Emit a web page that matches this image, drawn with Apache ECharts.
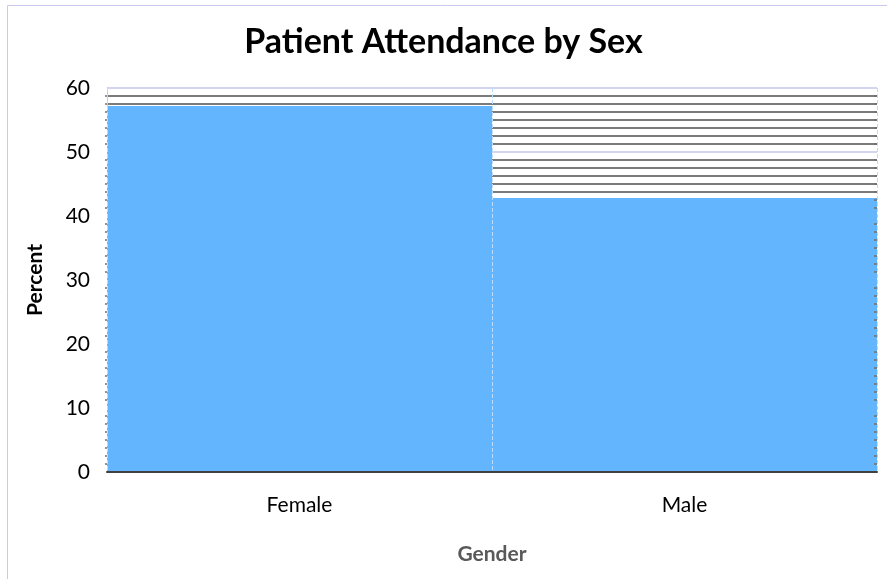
<!DOCTYPE html>
<html>
<head>
<meta charset="utf-8">
<script src="https://cdn.jsdelivr.net/npm/echarts@6/dist/echarts.min.js"></script>
<style>
  html, body { margin: 0; padding: 0; background: #fff; }
  #chart { width: 887px; height: 579px; }
</style>
</head>
<body>
<div id="chart"></div>
<script>
  const categories = ['Female', 'Male'];
  const percents = [57.2, 42.8];
  const yTicks = [0, 10, 20, 30, 40, 50, 60];

  const chart = echarts.init(document.getElementById('chart'), null, { renderer: 'canvas' });
  const font = 'Lato, "Open Sans", sans-serif';

  chart.setOption({
    animation: false,
    title: {
      text: 'Patient Attendance by Sex',
      left: 'center', top: 20,
      textStyle: { fontFamily: font, fontWeight: 'bold', fontSize: 34, color: '#000' }
    },
    graphic: [{
      type: 'rect', left: 5, top: 3, shape: { width: 890, height: 590 },
      style: { fill: null, stroke: '#c9c9ee', lineWidth: 1 }, silent: true
    }],
    grid: { left: 107, right: 10, top: 88, bottom: 107 },
    xAxis: {
      type: 'category', data: categories, z: 3,
      name: 'Gender', nameLocation: 'middle', nameGap: 72,
      nameTextStyle: { fontFamily: font, fontWeight: 'bold', fontSize: 21, color: '#595959' },
      axisLine: { lineStyle: { color: '#404040', width: 2 } },
      axisTick: { show: false },
      axisLabel: { fontFamily: font, fontSize: 21, color: '#000', margin: 23 },
      splitLine: { show: true, lineStyle: { color: '#b9dcff', type: 'dashed', width: 1 } }
    },
    yAxis: [{
      type: 'value', min: yTicks[0], max: yTicks[yTicks.length - 1], interval: 10,
      name: 'Percent', nameLocation: 'middle', nameGap: 61, nameRotate: 90,
      nameTextStyle: { fontFamily: font, fontWeight: 'bold', fontSize: 21, color: '#000' },
      axisLine: { show: true, lineStyle: { color: '#c0c0f0', width: 1 } },
      axisTick: { show: false },
      minorTick: { show: true, splitNumber: 8, length: 2, lineStyle: { color: '#707070', width: 1.5 } },
      axisLabel: { fontFamily: font, fontSize: 21, color: '#000', margin: 17 },
      splitLine: { show: true, lineStyle: { color: '#c4c4ee', width: 1.5 } },
      minorSplitLine: { show: true, lineStyle: { color: '#505050', width: 1.5 } }
    }, {
      type: 'value', position: 'right', min: yTicks[0], max: yTicks[yTicks.length - 1], interval: 10,
      z: 3,
      axisLine: { show: false },
      axisTick: { show: false },
      axisLabel: { show: false },
      splitLine: { show: false },
      minorTick: { show: true, splitNumber: 8, length: -3, lineStyle: { color: '#707070', width: 1.5 } }
    }],
    series: [{
      type: 'bar', data: percents,
      barWidth: '100%', barCategoryGap: 0,
      itemStyle: { color: '#63b5fe' }
    }]
  });
</script>
</body>
</html>
